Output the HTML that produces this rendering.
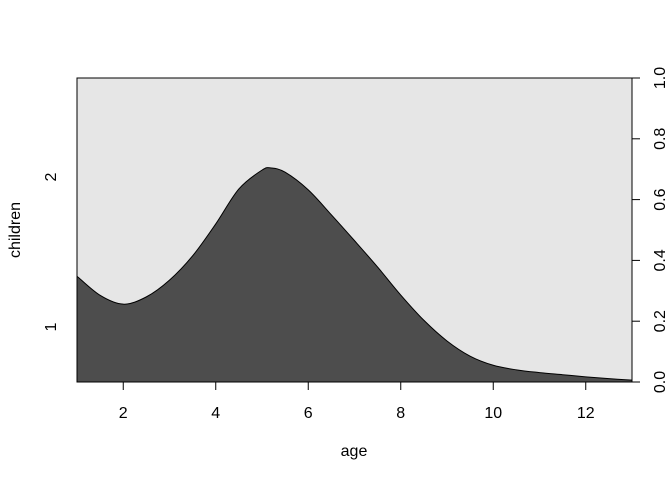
<!DOCTYPE html>
<html><head><meta charset="utf-8"><style>
body{margin:0;background:#fff}
svg text{font-family:"Liberation Sans",Arial,sans-serif;font-size:16px;fill:#000}
</style></head><body>
<svg id="chart" width="672" height="480" xmlns="http://www.w3.org/2000/svg">
<rect width="672" height="480" fill="#fff"/>
<g id="plot"></g>
</svg>
<script>
const ages = [1,1.5,2,2.5,3,3.5,4,4.5,5,5.2,5.5,6,6.5,7,7.5,8,8.5,9,9.5,10,10.5,11,11.5,12,12.5,13];
const propChildren1 = [0.348,0.285,0.256,0.280,0.335,0.415,0.520,0.635,0.697,0.704,0.690,0.632,0.550,0.465,0.378,0.286,0.203,0.135,0.085,0.055,0.040,0.031,0.024,0.017,0.011,0.006];
const xTicks = [2,4,6,8,10,12];
const yTicks = [0,0.2,0.4,0.6,0.8,1.0];
const yTickLabels = ["0.0","0.2","0.4","0.6","0.8","1.0"];
const catLabels = ["1","2"];

const L=77,R=632,T=78,B=382;
const xs=v=>L+(v-1)/(13-1)*(R-L);
const ys=v=>B-v*(B-T);
const NS="http://www.w3.org/2000/svg";
const g=document.getElementById('plot');
function mk(tag,attrs){const e=document.createElementNS(NS,tag);for(const k in attrs)e.setAttribute(k,attrs[k]);g.appendChild(e);return e;}

const bg=mk('rect',{x:L,y:T,width:R-L,height:B-T,fill:'#e6e6e6'});



const pts=ages.map((a,i)=>[xs(a),ys(propChildren1[i])]);
let d=`M${pts[0][0]},${pts[0][1]}`;
for(let i=0;i<pts.length-1;i++){
  const p0=pts[Math.max(0,i-1)],p1=pts[i],p2=pts[i+1],p3=pts[Math.min(pts.length-1,i+2)];
  const c1=[p1[0]+(p2[0]-p0[0])/6,p1[1]+(p2[1]-p0[1])/6];
  const c2=[p2[0]-(p3[0]-p1[0])/6,p2[1]-(p3[1]-p1[1])/6];
  d+=` C${c1[0]},${c1[1]} ${c2[0]},${c2[1]} ${p2[0]},${p2[1]}`;
}
const area=mk('path',{d:d+` L${xs(13)},${B} L${xs(1)},${B} Z`,fill:'#4d4d4d',stroke:'none'});


const line=mk('path',{d:d,fill:'none',stroke:'#000','stroke-width':1});



const box=mk('rect',{x:L,y:T,width:R-L,height:B-T,fill:'none',stroke:'#000','stroke-width':1});



xTicks.forEach(v=>{
  const t=mk('line',{x1:xs(v),x2:xs(v),y1:B,y2:B+8,stroke:'#000'});
  
  
  const l=mk('text',{x:xs(v),y:418,'text-anchor':'middle'});l.textContent=v;
  
  
});
yTicks.forEach((v,i)=>{
  const t=mk('line',{x1:R,x2:R+8,y1:ys(v),y2:ys(v),stroke:'#000'});
  
  
  const l=mk('text',{x:0,y:0,'text-anchor':'middle',transform:`translate(665,${ys(v)}) rotate(-90)`});
  l.textContent=yTickLabels[i];
  
  
});
[327,177].forEach((yy,i)=>{
  const l=mk('text',{x:0,y:0,'text-anchor':'middle',transform:`translate(56,${yy}) rotate(-90)`});
  l.textContent=catLabels[i];
  
  
});
const xt=mk('text',{x:354,y:456,'text-anchor':'middle'});xt.textContent='age';


const yt=mk('text',{x:0,y:0,'text-anchor':'middle',transform:'translate(20,230) rotate(-90)'});yt.textContent='children';


</script>
</body></html>
